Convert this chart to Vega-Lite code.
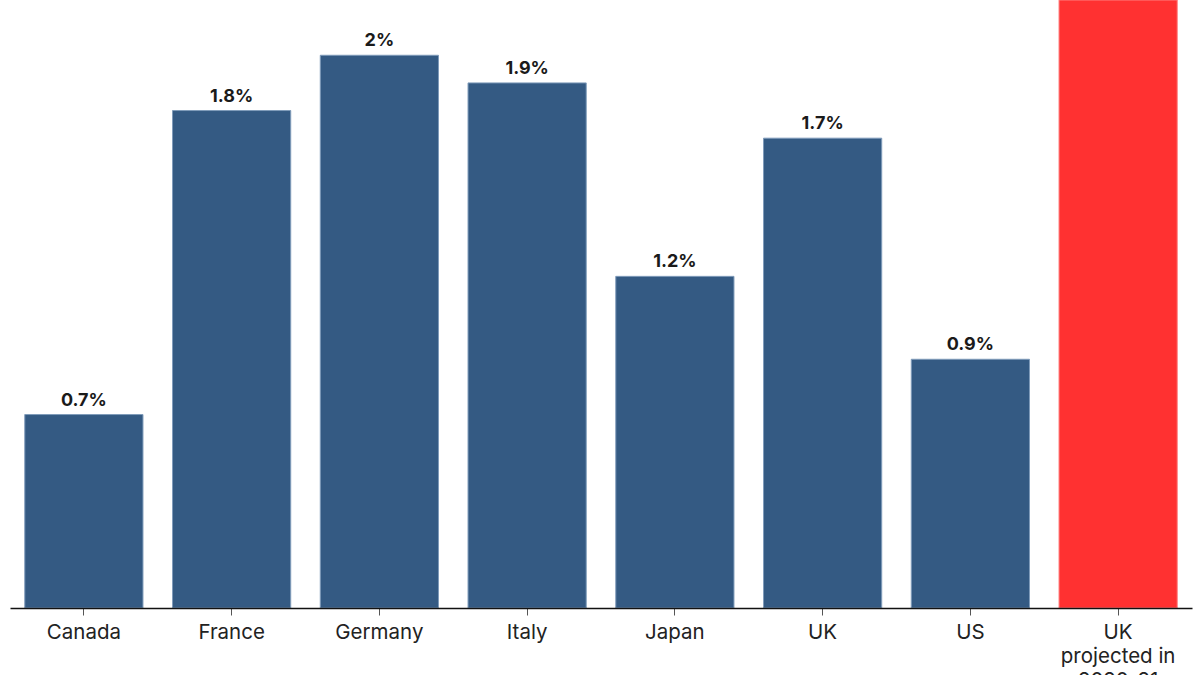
{
  "$schema": "https://vega.github.io/schema/vega-lite/v6.json",
  "autosize": "none",
  "padding": {"left": 10, "top": 0, "right": 8, "bottom": 67},
  "width": 1182,
  "height": 608,
  "background": "white",
  "data": {
    "values": [
      {"country": "Canada", "value": 0.7, "label": "0.7%", "projected": "no"},
      {"country": "France", "value": 1.8, "label": "1.8%", "projected": "no"},
      {"country": "Germany", "value": 2.0, "label": "2%", "projected": "no"},
      {"country": "Italy", "value": 1.9, "label": "1.9%", "projected": "no"},
      {"country": "Japan", "value": 1.2, "label": "1.2%", "projected": "no"},
      {"country": "UK", "value": 1.7, "label": "1.7%", "projected": "no"},
      {"country": "US", "value": 0.9, "label": "0.9%", "projected": "no"},
      {"country": "UK projected in 2020-21", "value": 2.2, "label": "2.2%", "projected": "yes"}
    ]
  },
  "encoding": {
    "x": {
      "field": "country",
      "type": "nominal",
      "sort": null,
      "scale": {"paddingInner": 0.2, "paddingOuter": 0.1},
      "axis": {
        "title": null,
        "labelAngle": 0,
        "labelFont": "Inter",
        "labelFontSize": 20.5,
        "labelColor": "#222222",
        "labelPadding": 7,
        "labelLineHeight": 24,
        "labelExpr": "datum.value == 'UK projected in 2020-21' ? ['UK', 'projected in', '2020-21'] : datum.value",
        "tickColor": "#555555",
        "tickSize": 7,
        "domainColor": "#111111",
        "domainWidth": 1.5,
        "grid": false,
        "zindex": 1
      }
    },
    "y": {
      "field": "value",
      "type": "quantitative",
      "scale": {"domain": [0, 2.2], "nice": false},
      "axis": null
    }
  },
  "layer": [
    {
      "mark": {"type": "bar", "strokeWidth": 1},
      "encoding": {
        "color": {
          "field": "projected",
          "type": "nominal",
          "scale": {"domain": ["no", "yes"], "range": ["#345A83", "#FF3131"]},
          "legend": null
        },
        "stroke": {
          "field": "projected",
          "type": "nominal",
          "scale": {"domain": ["no", "yes"], "range": ["#7F9BBA", "#FF8080"]},
          "legend": null
        }
      }
    },
    {
      "mark": {
        "type": "text",
        "baseline": "bottom",
        "dy": -5,
        "font": "Inter",
        "fontSize": 18,
        "fontWeight": "bold",
        "color": "#1a1a1a"
      },
      "encoding": {
        "text": {"field": "label", "type": "nominal"}
      }
    }
  ],
  "config": {"view": {"stroke": null}}
}
